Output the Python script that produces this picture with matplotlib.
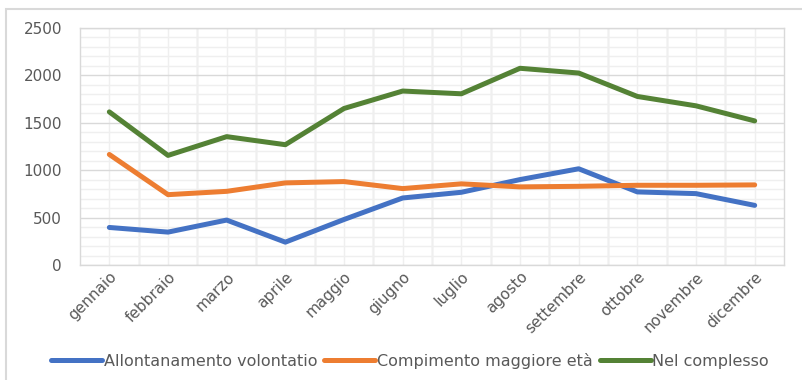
import matplotlib.pyplot as plt
from matplotlib.patches import Rectangle
import numpy as np

# mesi e serie
mesi = ["gennaio", "febbraio", "marzo", "aprile", "maggio", "giugno",
        "luglio", "agosto", "settembre", "ottobre", "novembre", "dicembre"]
allontanamento = [396, 347, 474, 241, 480, 707, 767, 901, 1015, 771, 753, 629]
maggiore_eta = [1166, 742, 777, 866, 880, 806, 856, 824, 830, 841, 841, 845]
complesso = [1615, 1156, 1354, 1269, 1651, 1835, 1806, 2075, 2025, 1778, 1679, 1520]

nomi = ["Allontanamento volontatio", "Compimento maggiore età", "Nel complesso"]
colori = ["#4472C4", "#ED7D31", "#548235"]

grigio = "#595959"

fig = plt.figure(figsize=(8.02, 3.8), dpi=100)
ax = fig.add_axes([80/802, 1-265/380, 704/802, 237/380])

# cornice del grafico
fig.patches.append(Rectangle((6/802, -0.2), 1.2, 1.2 - 9/380, transform=fig.transFigure,
                             fill=False, edgecolor="#d9d9d9", lw=1.5))

x = np.arange(len(mesi))
for serie, nome, c in zip([allontanamento, maggiore_eta, complesso], nomi, colori):
    ax.plot(x, serie, color=c, lw=3.6, label=nome, solid_capstyle="round",
            solid_joinstyle="round", zorder=3)

ax.set_xlim(-0.5, len(mesi) - 0.5)
ax.set_ylim(0, 2500)
ax.set_yticks(np.arange(0, 2501, 500))
ax.set_yticks(np.arange(0, 2501, 100), minor=True)
ax.set_xticks(x)
ax.set_xticklabels(mesi, rotation=45, ha="right", rotation_mode="anchor",
                   fontsize=11, color=grigio)
ax.set_xticks(x[:-1] + 0.5, minor=True)
ax.tick_params(axis="y", labelsize=11, labelcolor=grigio, length=0, pad=13)
ax.tick_params(axis="x", length=0, pad=3)
ax.tick_params(which="minor", length=0)

# griglia: linee principali sui confini, secondarie chiare
ax.grid(which="minor", color="#efefef", lw=1, zorder=0)
ax.grid(which="major", axis="y", color="#d9d9d9", lw=1, zorder=1)
for xv in x[:-1] + 0.5:
    ax.axvline(xv, color="#d9d9d9", lw=1, zorder=1)
ax.grid(which="major", axis="x", color="#efefef", lw=1, zorder=0)
for s in ax.spines.values():
    s.set_color("#d9d9d9")
    s.set_linewidth(1)

fig.legend(loc="center", bbox_to_anchor=(410/802, 1 - 361/380), ncol=3, frameon=False,
           fontsize=11.5, handlelength=3.2, handletextpad=0.08, columnspacing=0.45,
           labelcolor=grigio)

fig.savefig("out.png", dpi=100)
